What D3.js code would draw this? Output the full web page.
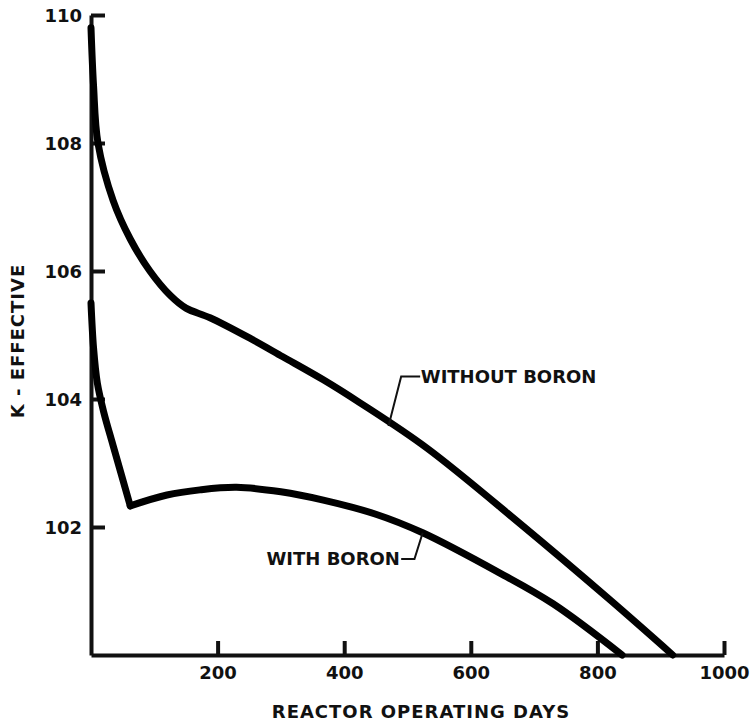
<!DOCTYPE html>
<html>
<head>
<meta charset="utf-8">
<script src="https://cdn.jsdelivr.net/npm/d3@7"></script>
<style>
  body { margin: 0; background: #fff; }
  svg text { font-family: "DejaVu Sans", sans-serif; font-weight: bold; fill: #111; }
</style>
</head>
<body>
<svg id="chart" width="753" height="724"></svg>
<script>
// values (days, k-effective)
var withoutDays = [0, 4, 11, 35, 62, 93, 125, 150, 188, 251, 303, 367, 425, 531, 678, 820, 919];
var withoutK    = [109.8, 108.9, 108.0, 107.1, 106.5, 106.0, 105.62, 105.42, 105.27, 104.95, 104.66, 104.3, 103.94, 103.23, 102.05, 100.86, 100.0];

var withDays = [0, 4, 10, 20, 35, 62, 120, 172, 230, 300, 367, 450, 524, 646, 730, 839];
var withK    = [105.5, 104.8, 104.25, 103.8, 103.27, 102.33, 102.5, 102.58, 102.62, 102.55, 102.42, 102.2, 101.91, 101.28, 100.8, 100.0];

var xTicks = [200, 400, 600, 800, 1000];
var yTicks = [102, 104, 106, 108, 110];

var svg = d3.select("#chart");

var x = d3.scaleLinear().domain([0, 1000]).range([91, 724]);
var y = d3.scaleLinear().domain([100, 110]).range([655, 15]);

// axes, ticks point inwards
var xAxis = d3.axisBottom(x).tickValues(xTicks).tickFormat(d3.format("d"))
    .tickSize(-14).tickSizeOuter(0).tickPadding(11);
var yAxis = d3.axisLeft(y).tickValues(yTicks).tickFormat(d3.format("d"))
    .tickSize(-14).tickSizeOuter(0).tickPadding(9);

var gx = svg.append("g").attr("transform", "translate(0," + y(100) + ")").call(xAxis);
var gy = svg.append("g").attr("transform", "translate(" + x(0) + ",0)").call(yAxis);

[gx, gy].forEach(function(g){
    g.select(".domain").attr("stroke", "#111").attr("stroke-width", 4);
    g.selectAll(".tick line").attr("stroke", "#111").attr("stroke-width", 4);
    g.selectAll(".tick text").attr("font-size", 18).attr("fill", "#111")
        .style("font-family", "'DejaVu Sans', sans-serif").style("font-weight", "bold");
});
gy.selectAll(".tick text").attr("dy", "0.36em");

var line = d3.line()
    .x(function(d){ return x(d[0]); })
    .y(function(d){ return y(d[1]); })
    .curve(d3.curveCatmullRom.alpha(0.5));

var without = withoutDays.map(function(d, i){ return [d, withoutK[i]]; });
var withB = withDays.map(function(d, i){ return [d, withK[i]]; });

// with boron has a sharp corner at its minimum, draw both sides separately
var minIdx = d3.minIndex(withB.slice(0, 8), function(d){ return d[1]; });
var parts = [without, withB.slice(0, minIdx + 1), withB.slice(minIdx)];

svg.selectAll("path.curve").data(parts).enter().append("path")
    .attr("class", "curve")
    .attr("d", line)
    .attr("fill", "none")
    .attr("stroke", "#000")
    .attr("stroke-width", 7)
    .attr("stroke-linejoin", "round")
    .attr("stroke-linecap", "round");

// leader lines for the curve labels
var leader = d3.line();
svg.append("path")
    .attr("d", leader([[x(470), y(103.58)], [x(490), y(104.35)], [x(520), y(104.35)]]))
    .attr("fill", "none").attr("stroke", "#111").attr("stroke-width", 2);
svg.append("path")
    .attr("d", leader([[x(524), y(101.91)], [x(511), y(101.5)], [x(490), y(101.5)]]))
    .attr("fill", "none").attr("stroke", "#111").attr("stroke-width", 2);

svg.append("text")
    .attr("x", x(521)).attr("y", y(104.35)).attr("dy", "0.36em")
    .attr("font-size", 18)
    .text("WITHOUT BORON");

svg.append("text")
    .attr("x", x(488)).attr("y", y(101.5)).attr("dy", "0.36em")
    .attr("text-anchor", "end")
    .attr("font-size", 18)
    .text("WITH BORON");

// axis titles
svg.append("text")
    .attr("x", 421).attr("y", 718)
    .attr("text-anchor", "middle")
    .attr("font-size", 18).attr("letter-spacing", 1)
    .text("REACTOR OPERATING DAYS");

svg.append("text")
    .attr("transform", "translate(24,341) rotate(-90)")
    .attr("text-anchor", "middle")
    .attr("font-size", 18).attr("letter-spacing", 1)
    .text("K - EFFECTIVE");
</script>
</body>
</html>
